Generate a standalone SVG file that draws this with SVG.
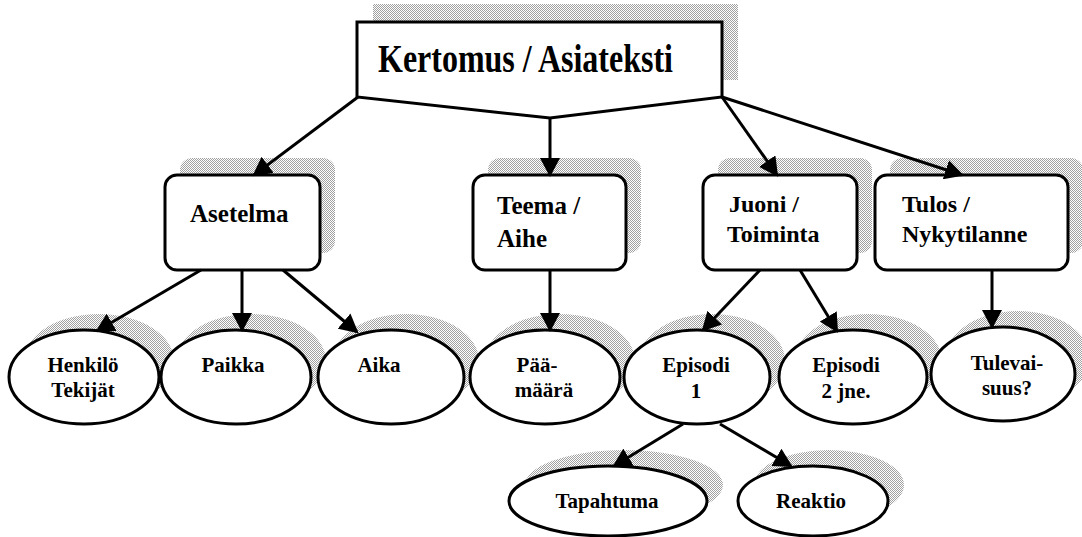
<svg xmlns="http://www.w3.org/2000/svg" width="1082" height="537" viewBox="0 0 1082 537">
<defs>
<pattern id="dots" width="2" height="2" patternUnits="userSpaceOnUse">
<rect width="2" height="2" fill="#ffffff"/>
<rect width="1" height="1" fill="#a0a0a0"/>
<rect x="1" y="1" width="1" height="1" fill="#a0a0a0"/>
</pattern>
<marker id="ah" markerUnits="userSpaceOnUse" viewBox="0 0 20 20" markerWidth="20" markerHeight="20" refX="17" refY="10" orient="auto">
<path d="M0,0 L19,10 L0,20 z" fill="#000"/>
</marker>
</defs>
<style>
.sh{fill:url(#dots);stroke:none}
.box{fill:#fff;stroke:#000;stroke-width:3}
.t{font-family:"Liberation Serif","Times New Roman",serif;font-weight:bold;fill:#000}
.t1{font-size:40px}
.t2{font-size:25px}
.t3{font-size:21px;text-anchor:middle}
.c{fill:none;stroke:#000;stroke-width:3;marker-end:url(#ah)}
</style>
<rect width="1082" height="537" fill="#fff"/>

<g id="n-kertomus">
<rect class="sh" x="373" y="4" width="365" height="76"/>
<polygon class="box" points="357,22 722,22 722,97 550,118 357,97"/>
<text class="t t1" x="378" y="72" textLength="295" lengthAdjust="spacingAndGlyphs">Kertomus / Asiateksti</text>
</g>

<g id="n-asetelma">
<rect class="sh" x="180" y="158" width="155" height="95" rx="12"/>
<rect class="box" x="165" y="175" width="155" height="95" rx="12"/>
<text class="t t2" x="190" y="222">Asetelma</text>
</g>
<g id="n-teema">
<rect class="sh" x="488" y="158" width="153" height="95" rx="12"/>
<rect class="box" x="473" y="175" width="153" height="95" rx="12"/>
<text class="t t2" x="497" y="214">Teema /</text>
<text class="t t2" x="497" y="247">Aihe</text>
</g>
<g id="n-juoni">
<rect class="sh" x="718" y="158" width="154" height="95" rx="12"/>
<rect class="box" x="703" y="175" width="154" height="95" rx="12"/>
<text class="t t2" x="729" y="212" style="font-size:24px">Juoni /</text>
<text class="t t2" x="727" y="242" style="font-size:24px">Toiminta</text>
</g>
<g id="n-tulos">
<rect class="sh" x="890" y="158" width="193" height="95" rx="12"/>
<rect class="box" x="875" y="175" width="193" height="95" rx="12"/>
<text class="t t2" x="902" y="212" style="font-size:24px">Tulos /</text>
<text class="t t2" x="902" y="242" style="font-size:24px">Nykytilanne</text>
</g>

<g id="n-henkilo">
<ellipse class="sh" cx="99" cy="361" rx="75" ry="47"/>
<ellipse class="box" cx="84" cy="377" rx="75" ry="47"/>
<text class="t t3" x="83" y="372">Henkilö</text>
<text class="t t3" x="83" y="397">Tekijät</text>
</g>
<g id="n-paikka">
<ellipse class="sh" cx="251" cy="361" rx="75" ry="47"/>
<ellipse class="box" cx="236" cy="377" rx="75" ry="47"/>
<text class="t t3" x="233" y="372">Paikka</text>
</g>
<g id="n-aika">
<ellipse class="sh" cx="406" cy="361" rx="73" ry="47"/>
<ellipse class="box" cx="391" cy="377" rx="73" ry="47"/>
<text class="t t3" x="379" y="372">Aika</text>
</g>
<g id="n-paamaara">
<ellipse class="sh" cx="560" cy="361" rx="75" ry="47"/>
<ellipse class="box" cx="545" cy="377" rx="75" ry="47"/>
<text class="t t3" x="537" y="372">Pää-</text>
<text class="t t3" x="544" y="397">määrä</text>
</g>
<g id="n-episodi1">
<ellipse class="sh" cx="712" cy="361" rx="73" ry="47"/>
<ellipse class="box" cx="697" cy="377" rx="73" ry="47"/>
<text class="t t3" x="696" y="372">Episodi</text>
<text class="t t3" x="696" y="398">1</text>
</g>
<g id="n-episodi2">
<ellipse class="sh" cx="868" cy="361" rx="74" ry="47"/>
<ellipse class="box" cx="853" cy="377" rx="74" ry="47"/>
<text class="t t3" x="846" y="372">Episodi</text>
<text class="t t3" x="846" y="398">2 jne.</text>
</g>
<g id="n-tulevaisuus">
<ellipse class="sh" cx="1018" cy="358" rx="72" ry="47"/>
<ellipse class="box" cx="1003" cy="374" rx="72" ry="47"/>
<text class="t t3" x="1007" y="370">Tulevai-</text>
<text class="t t3" x="1007" y="395">suus?</text>
</g>

<g id="n-tapahtuma">
<ellipse class="sh" cx="624" cy="485" rx="99" ry="35"/>
<ellipse class="box" cx="608" cy="501" rx="99" ry="35"/>
<text class="t t3" x="607" y="508">Tapahtuma</text>
</g>
<g id="n-reaktio">
<ellipse class="sh" cx="829" cy="485" rx="75" ry="35"/>
<ellipse class="box" cx="813" cy="501" rx="75" ry="35"/>
<text class="t t3" x="811" y="508">Reaktio</text>
</g>

<g id="connectors">
<line class="c" x1="358" y1="97" x2="254" y2="175"/>
<line class="c" x1="550" y1="118" x2="550" y2="175"/>
<line class="c" x1="722" y1="97" x2="777" y2="175"/>
<line class="c" x1="722" y1="97" x2="962" y2="175"/>
<line class="c" x1="201" y1="270" x2="97" y2="331"/>
<line class="c" x1="242" y1="270" x2="242" y2="330"/>
<line class="c" x1="283" y1="270" x2="357" y2="332"/>
<line class="c" x1="550" y1="270" x2="550" y2="330"/>
<line class="c" x1="760" y1="270" x2="703" y2="330"/>
<line class="c" x1="800" y1="270" x2="837" y2="331"/>
<line class="c" x1="992" y1="270" x2="992" y2="327"/>
<line class="c" x1="683" y1="424" x2="614" y2="466"/>
<line class="c" x1="720" y1="424" x2="791" y2="466"/>
</g>
</svg>
